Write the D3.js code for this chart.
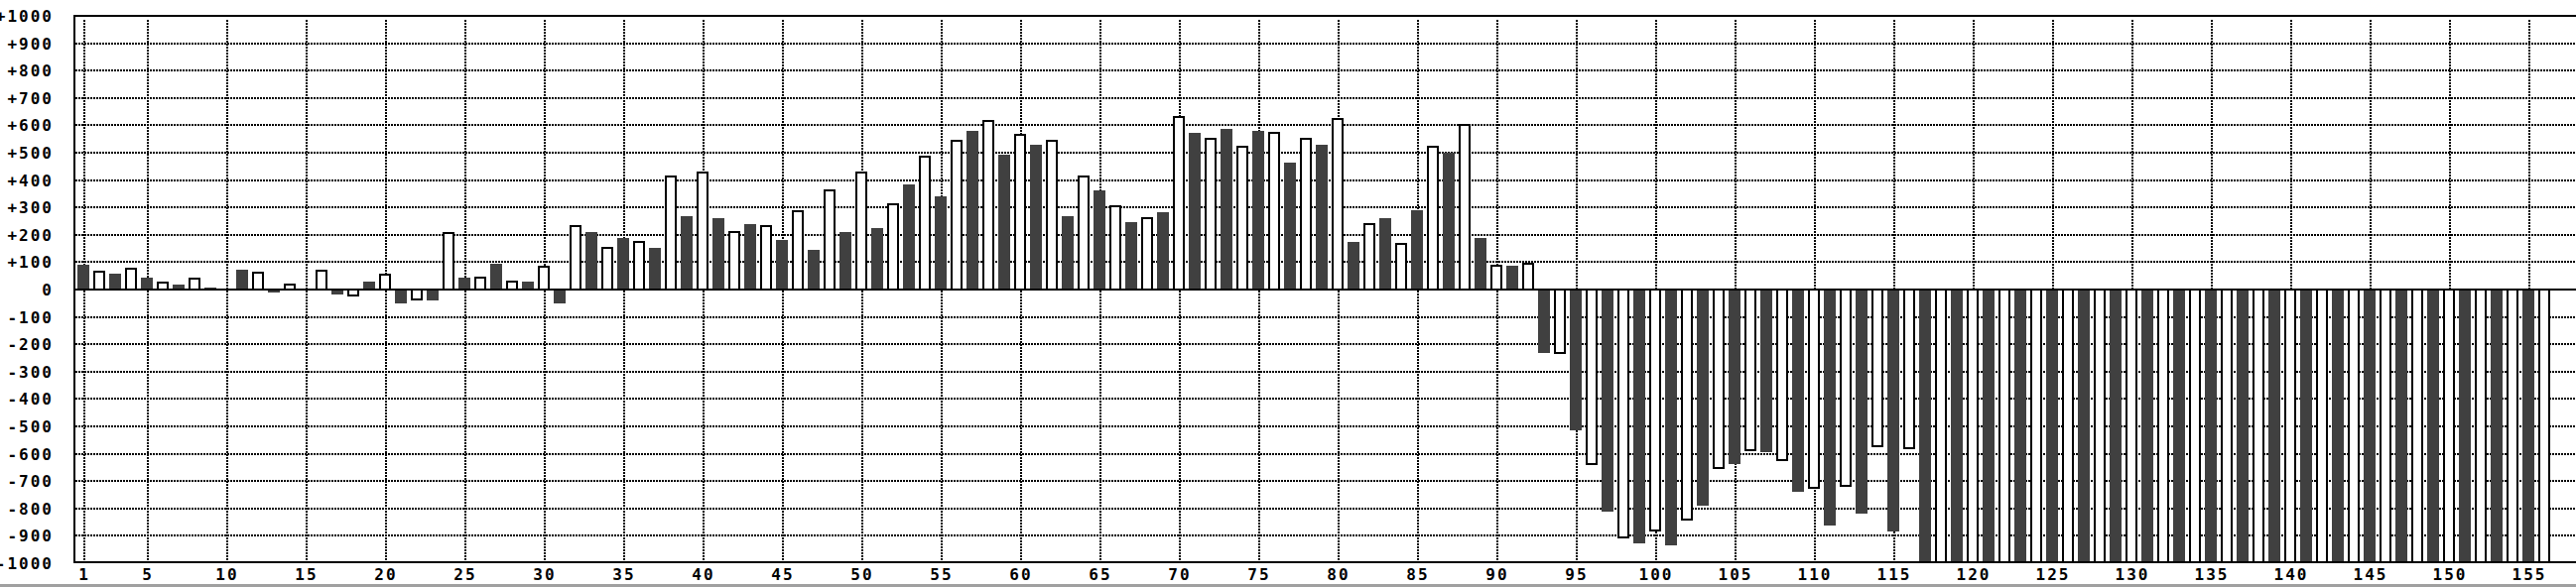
<!DOCTYPE html>
<html>
<head>
<meta charset="utf-8">
<script src="https://cdn.jsdelivr.net/npm/d3@7/dist/d3.min.js"></script>
<style>
  html, body { margin: 0; padding: 0; background: #fff; overflow: hidden; }
  svg { display: block; }
  text { font-family: "DejaVu Sans Mono", monospace; font-size: 16px; font-weight: bold; fill: #000; }
</style>
</head>
<body>
<script>
// ---- data ----
const categories = d3.range(1, 157);
const values = [
  90, 70, 59, 80, 45, 28, 17, 42, 8, 0,
  73, 64, -12, 21, -3, 71, -19, -25, 30, 57,
  -50, -39, -41, 209, 45, 48, 95, 34, 30, 86,
  -50, 237, 211, 157, 190, 179, 153, 418, 269, 432,
  262, 215, 240, 237, 182, 291, 146, 367, 211, 432,
  226, 316, 385, 490, 342, 548, 581, 621, 494, 570,
  530, 548, 269, 418, 363, 309, 247, 266, 284, 635,
  574, 556, 588, 527, 581, 577, 465, 556, 530, 628,
  175, 244, 262, 172, 291, 527, 501, 606, 190, 92,
  88, 99, -231, -236, -513, -641, -810, -910, -926, -883,
  -934, -844, -789, -656, -637, -591, -593, -627, -738, -728,
  -861, -721, -818, -576, -883, -583, -1000, -1000, -1000, -1000,
  -1000, -1000, -1000, -1000, -1000, -1000, -1000, -1000, -1000, -1000,
  -1000, -1000, -1000, -1000, -1000, -1000, -1000, -1000, -1000, -1000,
  -1000, -1000, -1000, -1000, -1000, -1000, -1000, -1000, -1000, -1000,
  -1000, -1000, -1000, -1000, -1000, -1000
];
const yTicks = [1000, 900, 800, 700, 600, 500, 400, 300, 200, 100, 0,
  -100, -200, -300, -400, -500, -600, -700, -800, -900, -1000];
const yTickLabels = ["+1000", "+900", "+800", "+700", "+600", "+500", "+400", "+300", "+200", "+100", "0",
  "-100", "-200", "-300", "-400", "-500", "-600", "-700", "-800", "-900", "-1000"];
const xTicks = [1, 5, 10, 15, 20, 25, 30, 35, 40, 45, 50, 55, 60, 65, 70, 75, 80, 85, 90, 95,
  100, 105, 110, 115, 120, 125, 130, 135, 140, 145, 150, 155];

(function () {
// ---- layout ----
const W = 2596, H = 592;
const pLeft = 75, pTop = 16, pBottom = 568;
const darkFill = "#404040";

const svg = d3.select("body").append("svg").attr("width", W).attr("height", H)
  .attr("shape-rendering", "crispEdges");
svg.append("rect").attr("width", W).attr("height", H).attr("fill", "#fff");

const x = d3.scaleBand().domain(categories).range([76, 76 + 16 * categories.length])
  .paddingInner(0.25).paddingOuter(0.125);
const y = d3.scaleLinear().domain([-1000, 1000]).range([pBottom, pTop]);
const ry = v => Math.round(y(v));
const gx = d => x(d) + x.bandwidth() / 2 + 1;

// horizontal dotted grid
svg.append("g").selectAll("line")
  .data(yTicks.filter(t => t !== 0 && Math.abs(t) !== 1000))
  .join("line")
  .attr("x1", pLeft + 1).attr("x2", W)
  .attr("y1", d => ry(d)).attr("y2", d => ry(d))
  .attr("stroke", "#000").attr("stroke-width", 2).attr("stroke-dasharray", "2,1");

// vertical dotted grid
svg.append("g").selectAll("line")
  .data(xTicks)
  .join("line")
  .attr("x1", d => gx(d)).attr("x2", d => gx(d))
  .attr("y1", pTop + 4).attr("y2", pBottom - 1)
  .attr("stroke", "#000").attr("stroke-width", 2).attr("stroke-dasharray", "2,1");

// bars
const data = categories.map((c, i) => ({ c, v: values[i], odd: c % 2 === 1 }));
const y0 = ry(0);
svg.append("g").selectAll("rect")
  .data(data.filter(d => d.odd))
  .join("rect")
  .attr("x", d => x(d.c)).attr("width", x.bandwidth())
  .attr("y", d => Math.min(ry(d.v), y0)).attr("height", d => Math.abs(ry(d.v) - y0))
  .attr("fill", darkFill);
svg.append("g").selectAll("rect")
  .data(data.filter(d => !d.odd))
  .join("rect")
  .attr("x", d => x(d.c) + 1).attr("width", x.bandwidth() - 2)
  .attr("y", d => d.v >= 0 ? ry(d.v) + 1 : y0)
  .attr("height", d => Math.max(0, Math.abs(ry(d.v) - y0) - 1))
  .attr("fill", "#fff").attr("stroke", "#000").attr("stroke-width", 2);

// frame / axes
const hline = yy => svg.append("line").attr("x1", pLeft - 1).attr("x2", W).attr("y1", yy).attr("y2", yy)
  .attr("stroke", "#000").attr("stroke-width", 2);
hline(pTop);
hline(y0);
hline(pBottom - 1);
svg.append("line").attr("x1", pLeft).attr("x2", pLeft).attr("y1", pTop - 1).attr("y2", pBottom)
  .attr("stroke", "#000").attr("stroke-width", 2);

// y labels
svg.append("g").selectAll("text")
  .data(yTicks)
  .join("text")
  .attr("x", 54).attr("y", d => ry(d) + 6)
  .attr("text-anchor", "end").attr("letter-spacing", "2px")
  .text((d, i) => yTickLabels[i]);

// x labels
svg.append("g").selectAll("text")
  .data(xTicks)
  .join("text")
  .attr("x", d => gx(d)).attr("y", 585)
  .attr("text-anchor", "middle").attr("letter-spacing", "2px")
  .text(d => d);

// bottom grey strip
svg.append("rect").attr("x", 0).attr("y", 589).attr("width", W).attr("height", 3).attr("fill", "#a0a0a0");
})();
</script>
</body>
</html>
